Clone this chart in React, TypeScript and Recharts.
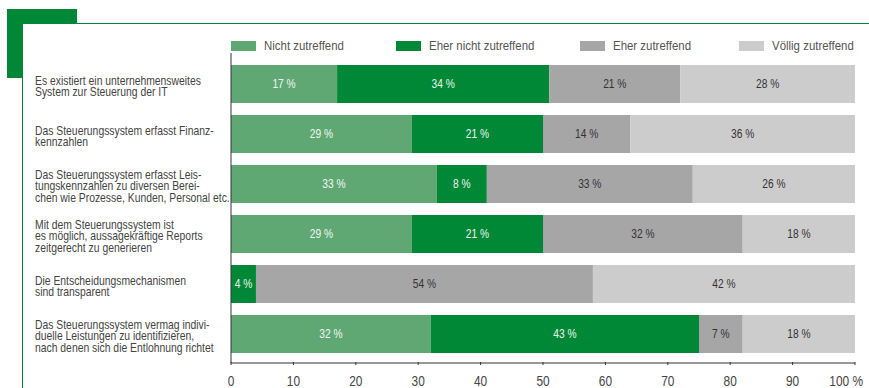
import { Bar, BarChart, LabelList, XAxis, YAxis } from "recharts";

const categories = [
  "Es existiert ein unternehmensweites\nSystem zur Steuerung der IT",
  "Das Steuerungssystem erfasst Finanz-\nkennzahlen",
  "Das Steuerungssystem erfasst Leis-\ntungskennzahlen zu diversen Berei-\nchen wie Prozesse, Kunden, Personal etc.",
  "Mit dem Steuerungssystem ist\nes möglich, aussagekräftige Reports\nzeitgerecht zu generieren",
  "Die Entscheidungsmechanismen\nsind transparent",
  "Das Steuerungssystem vermag indivi-\nduelle Leistungen zu identifizieren,\nnach denen sich die Entlohnung richtet",
];

const nichtZutreffend = [17, 29, 33, 29, 0, 32];
const eherNicht = [34, 21, 8, 21, 4, 43];
const eherZutreffend = [21, 14, 33, 32, 54, 7];
const voellig = [28, 36, 26, 18, 42, 18];

const xTicks = [0, 10, 20, 30, 40, 50, 60, 70, 80, 90, 100];

const FONT = "'Liberation Sans', Arial, sans-serif";
const SQUEEZE = 0.85;

const SERIES = [
  { key: "nicht", name: "Nicht zutreffend", color: "#5fa873", text: "#f2f7f2", legendX: 231 },
  { key: "eherNicht", name: "Eher nicht zutreffend", color: "#008836", text: "#eef5ee", legendX: 396 },
  { key: "eher", name: "Eher zutreffend", color: "#a6a6a6", text: "#333333", legendX: 580 },
  { key: "voellig", name: "Völlig zutreffend", color: "#cccccc", text: "#333333", legendX: 739 },
];

const data = categories.map((c, i) => ({
  category: c,
  nicht: nichtZutreffend[i],
  eherNicht: eherNicht[i],
  eher: eherZutreffend[i],
  voellig: voellig[i],
}));

function CategoryTick({ y, payload }: any) {
  const lines = String(payload.value).split("\n");
  const lh = 11.7;
  const start = y - ((lines.length - 1) * lh) / 2 + 6.5;
  return (
    <g transform={`translate(35, 0) scale(0.865, 1)`}>
      <text x={0} y={start} fill="#444" fontSize={12} fontFamily={FONT}>
        {lines.map((l, i) => (
          <tspan key={i} x={0} y={start + i * lh}>
            {l}
          </tspan>
        ))}
      </text>
    </g>
  );
}

function PercentTick({ x, y, payload }: any) {
  const last = payload.value === 100;
  return (
    <g>
      <line x1={x} x2={x} y1={y - 3} y2={y} stroke="#333" />
      <g transform={`translate(${last ? x + 8 : x}, ${y + 21}) scale(${SQUEEZE}, 1)`}>
        <text x={0} y={0} textAnchor={last ? "end" : "middle"} fill="#444" fontSize={14} fontFamily={FONT}>
          {last ? "100 %" : payload.value}
        </text>
      </g>
    </g>
  );
}

function makeLabel(color: string) {
  return (props: any) => {
    const { x, y, width, height, value } = props;
    if (!value) return null;
    return (
      <g transform={`translate(${x + width / 2}, ${y + height / 2}) scale(${SQUEEZE}, 1)`}>
        <text x={0} y={0} textAnchor="middle" dominantBaseline="central" fill={color} fontSize={12} fontFamily={FONT}>
          {`${value} %`}
        </text>
      </g>
    );
  };
}

export default function App() {
  return (
    <div style={{ position: "fixed", left: 0, top: 0, width: 869, height: 388, background: "#fff", overflow: "hidden" }}>
      <div style={{ position: "absolute", left: 7, top: 9, width: 70, height: 69, background: "#008836" }} />
      <div
        style={{
          position: "absolute",
          left: 22,
          top: 23,
          right: -2,
          bottom: -2,
          background: "#fff",
          borderTop: "1.5px solid #008836",
          borderLeft: "1.5px solid #008836",
        }}
      />
      {SERIES.map((s) => (
        <div key={s.key} style={{ position: "absolute", left: s.legendX, top: 40, height: 11, display: "flex", alignItems: "center" }}>
          <span style={{ width: 25, height: 10, background: s.color, display: "inline-block", flex: "none" }} />
          <span
            style={{
              marginLeft: 8,
              fontSize: 13,
              color: "#555",
              fontFamily: FONT,
              whiteSpace: "nowrap",
              transform: `scaleX(0.88)`,
              transformOrigin: "left center",
            }}
          >
            {s.name}
          </span>
        </div>
      ))}
      <div style={{ position: "absolute", left: 0, top: 0 }}>
        <BarChart
          width={869}
          height={388}
          data={data}
          layout="vertical"
          barCategoryGap={6}
          margin={{ top: 53, right: 14, bottom: 0, left: 0 }}
        >
          <XAxis
            type="number"
            domain={[0, 100]}
            ticks={xTicks}
            interval={0}
            height={25}
            tickSize={0}
            tick={<PercentTick />}
            axisLine={{ stroke: "#333" }}
            tickLine={false}
          />
          <YAxis
            type="category"
            dataKey="category"
            width={231}
            tickSize={0}
            tick={<CategoryTick />}
            axisLine={{ stroke: "#333" }}
            tickLine={false}
            interval={0}
            padding={{ top: 6, bottom: 4 }}
          />
          {SERIES.map((s) => (
            <Bar key={s.key} dataKey={s.key} name={s.name} stackId="a" fill={s.color} barSize={38} isAnimationActive={false}>
              <LabelList dataKey={s.key} content={makeLabel(s.text)} />
            </Bar>
          ))}
        </BarChart>
      </div>
    </div>
  );
}
